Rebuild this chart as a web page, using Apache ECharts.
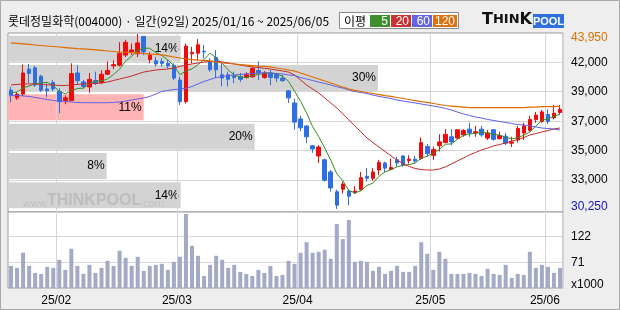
<!DOCTYPE html>
<html><head><meta charset="utf-8">
<script src="https://cdn.jsdelivr.net/npm/echarts@6/dist/echarts.min.js"></script>
<style>html,body{margin:0;padding:0;background:#eeeeee}#c{width:620px;height:310px}</style>
</head><body><div id="c"></div>
<script>
const stockName = '롯데정밀화학(004000)';
const dates = [
 '2025/01/16','2025/01/17','2025/01/20','2025/01/21','2025/01/22','2025/01/23','2025/01/24','2025/01/31',
 '2025/02/03','2025/02/04','2025/02/05','2025/02/06','2025/02/07','2025/02/10','2025/02/11','2025/02/12','2025/02/13','2025/02/14',
 '2025/02/17','2025/02/18','2025/02/19','2025/02/20','2025/02/21','2025/02/24','2025/02/25','2025/02/26','2025/02/27','2025/02/28',
 '2025/03/04','2025/03/05','2025/03/06','2025/03/07','2025/03/10','2025/03/11','2025/03/12','2025/03/13','2025/03/14',
 '2025/03/17','2025/03/18','2025/03/19','2025/03/20','2025/03/21','2025/03/24','2025/03/25','2025/03/26','2025/03/27','2025/03/28','2025/03/31',
 '2025/04/01','2025/04/02','2025/04/03','2025/04/04','2025/04/07','2025/04/08','2025/04/09','2025/04/10','2025/04/11',
 '2025/04/14','2025/04/15','2025/04/16','2025/04/17','2025/04/18','2025/04/21','2025/04/22','2025/04/23','2025/04/24','2025/04/25',
 '2025/04/28','2025/04/29','2025/04/30',
 '2025/05/02','2025/05/07','2025/05/08','2025/05/09','2025/05/12','2025/05/13','2025/05/14','2025/05/15','2025/05/16',
 '2025/05/19','2025/05/20','2025/05/21','2025/05/22','2025/05/23','2025/05/26','2025/05/27','2025/05/28','2025/05/29','2025/05/30',
 '2025/06/02','2025/06/04','2025/06/05'
];
const opens = [
 39550,38950,39250,41200,41300,40650,39650,40150,39450,38750,
 38750,40900,40200,39800,40300,40150,40800,41450,41500,42300,
 42550,42400,43750,41950,41850,41800,41650,41500,40350,38650,
 42400,42450,42600,41800,42100,40750,40750,40650,40600,40550,
 40600,41100,40550,40900,40800,40500,39500,38550,37300,36750,
 35200,34400,34100,33150,31600,31800,31650,31500,31750,32800,
 32650,33300,33850,33350,34100,34400,34050,34150,34200,35150,
 34450,35200,35450,35900,35800,36050,36500,36200,36500,35800,
 36450,35750,35950,35400,35650,36200,36400,37250,37100,37650,
 37400,37800
];
const closes = [
 39150,39250,40900,40850,39950,39550,39500,39650,38650,38950,
 40850,40300,39850,40400,40100,40800,41100,41550,42450,43300,
 42700,43250,42550,42300,41600,41650,41450,40500,38650,43000,
 42500,43100,42550,41150,41150,40500,40400,40550,40400,40800,
 41250,40900,40900,40550,40500,40300,38950,37050,36600,35900,
 34950,35100,32500,31900,30550,32200,31250,31650,32700,32650,
 33150,33900,33450,33500,33850,33700,34150,34000,35450,34600,
 34900,35500,36100,35500,36450,36400,36200,36300,36050,36200,
 35700,36000,35400,35500,36550,36750,37250,37600,37850,37100,
 37750,38050
];
const lows = [
 38600,38800,39100,40100,39800,39400,39000,39450,37750,38450,
 38700,39950,39700,39350,39950,40050,40750,41200,41400,42150,
 42300,42150,42300,41650,41400,41400,41250,40350,38400,38500,
 41650,41900,42050,41000,40500,39850,39850,40100,40200,40450,
 40500,40350,40450,39950,40200,40200,38550,36450,36350,35400,
 34650,33850,32400,31600,30250,31450,30550,31450,31700,32400,
 32450,32900,33150,33300,33550,33550,33800,33850,34100,34350,
 34100,34750,35400,35250,35700,35900,35900,35900,35900,35650,
 35600,35700,35250,35100,35450,35650,36300,37000,37000,36900,
 37250,37600
];
const highs = [
 39800,39400,41550,41600,41450,40750,40100,40350,39700,39150,
 41650,41500,40350,40900,41000,41100,41800,41900,43300,43500,
 43200,43950,43800,42550,42150,42050,41900,41650,40600,43200,
 42950,43550,43100,42050,42700,41650,41000,41000,40900,40950,
 41350,41800,41050,41150,40900,40750,39550,38900,37550,36800,
 35250,35250,34200,33300,31750,32400,31800,32050,33150,33450,
 33450,34100,33950,34200,34350,34450,34450,34400,35850,35350,
 35150,36100,36500,36500,36500,36500,37000,36750,36750,36450,
 36500,36300,36200,35900,36750,37000,37550,37850,38000,38050,
 38400,38400
];
// volume, thousand shares
const volumes = [
 64,60,90,64,50,48,62,60,76,56,
 98,64,48,66,50,60,74,64,94,80,
 64,82,54,64,66,68,56,72,82,167,
 104,84,44,66,84,76,60,66,52,48,
 44,56,50,64,44,46,74,68,90,111,
 90,92,96,78,147,117,155,72,74,72,
 54,62,48,54,64,52,52,64,111,88,
 56,92,78,48,48,48,50,48,44,58,
 48,46,66,40,48,46,92,60,66,62,
 50,60
];
const ma5 = [
 39330,39410,39720,39880,40040,40110,40170,39910,39460,39260,
 39530,39680,39710,40070,40290,40280,40430,40780,41190,41830,
 42210,42650,42850,42830,42490,42270,41910,41490,40760,41050,
 41220,41550,41950,42450,42080,41670,41140,40740,40600,40540,
 40690,40790,40870,40900,40830,40640,40250,39470,38680,37760,
 36690,35920,35020,34080,33010,32460,31690,31520,31670,32090,
 32280,32810,33160,33320,33560,33670,33720,33840,34230,34380,
 34620,34900,35320,35340,35710,36000,36130,36160,36270,36210,
 36080,36040,35860,35750,35830,36030,36280,36730,37200,37300,
 37510,37670
];
const ma20 = [
 39960,40000,40040,40040,40040,40000,39960,39960,39920,39920,
 39960,40000,40040,40070,40070,40110,40190,40310,40430,40540,
 40660,40820,40970,41050,41130,41170,41210,41290,41410,41520,
 41600,41680,41760,41800,41800,41760,41680,41600,41520,41440,
 41370,41330,41260,41210,41130,41050,40970,40740,40350,39960,
 39640,39330,38940,38550,38160,37690,37220,36750,36280,35810,
 35450,35100,34750,34400,34080,33810,33580,33420,33340,33300,
 33300,33380,33540,33770,34010,34240,34480,34670,34870,35020,
 35180,35300,35420,35570,35690,35850,36040,36160,36280,36390,
 36510,36590
];
const ma60 = [
 39170,39140,39100,39060,38980,38900,38820,38740,38700,38670,
 38630,38590,38570,38570,38570,38570,38570,38590,38630,38700,
 38780,38860,38940,39060,39250,39450,39530,39600,39640,39700,
 39840,40040,40230,40390,40540,40620,40700,40740,40780,40820,
 40860,40900,40900,40900,40860,40820,40740,40700,40540,40430,
 40310,40190,40070,39960,39820,39720,39570,39450,39370,39290,
 39170,39060,38980,38900,38780,38700,38630,38550,38470,38390,
 38310,38230,38120,38000,37840,37690,37570,37450,37370,37260,
 37180,37100,37020,36940,36860,36830,36750,36670,36590,36550,
 36510,36430
];
const ma120 = [
 43250,43210,43170,43130,43090,43050,43010,42970,42930,42890,
 42850,42810,42780,42740,42700,42660,42620,42580,42540,42520,
 42490,42460,42420,42380,42350,42310,42230,42150,42070,41990,
 41950,41910,41880,41840,41760,41680,41640,41600,41560,41520,
 41480,41440,41420,41370,41290,41210,41130,41050,40900,40740,
 40580,40430,40270,40110,39960,39800,39640,39530,39450,39370,
 39290,39210,39130,39060,38980,38900,38820,38740,38660,38590,
 38510,38430,38350,38310,38270,38230,38190,38190,38190,38190,
 38190,38190,38190,38190,38190,38190,38230,38230,38270,38270,
 38270,38310
];
// price-volume profile bands (top to bottom), percent of volume
const bandNames = ['band1','band2','band3','band4','band5','band6'];
const bandPct = [14, 30, 11, 20, 8, 14];
const currentBand = 2;
// right axis tick values and the labels printed at them
const priceTickValues = [41700, 39430, 37080, 34810, 32520];
const priceTickLabels = ['42,000', '39,000', '37,000', '35,000', '33,000'];
const priceMax = 43950, priceMin = 30250;
const volTickValues = [71, 122];
const volUnit = 'x1000';
const maNames = ['5', '20', '60', '120'];

// ---------- styles ----------
const C_UP = '#ec0c0c', C_DOWN = '#2f6fe2';
const C_MA = ['#3a8c22', '#c42a2a', '#5f5fe6', '#e06c00'];
const C_LEG = ['#3f8f2f', '#c83232', '#6464e4', '#e07010'];
const NUM_FONT = 'Liberation Sans, Arial, sans-serif';
const KR_FONT = '"Noto Sans CJK KR", sans-serif';

const isMonthStart = (i) => i > 0 && dates[i].slice(0, 7) !== dates[i - 1].slice(0, 7);
const fmt = (v) => v.toLocaleString('en-US');

const chart = echarts.init(document.getElementById('c'), null, {renderer: 'canvas'});

const ohlc = dates.map((d, i) => [opens[i], closes[i], lows[i], highs[i]]);
const bandData = bandPct.map((v, i) => ({
  value: v,
  itemStyle: {color: i === currentBand ? '#ffb3b3' : '#d3d3d3'}
}));

const PLOT_L = 8, PLOT_W = 555;
const pMin = 30013, pMax = 44028;

const legendEls = [];
legendEls.push({type: 'rect', shape: {x: 339.5, y: 12.5, width: 119, height: 16}, style: {fill: '#fff', stroke: '#8a8a8a', lineWidth: 1}, z: 50});
legendEls.push({type: 'text', x: 344, y: 21, style: {text: '이평', font: '12px ' + KR_FONT, fill: '#000', textVerticalAlign: 'middle'}, z: 51});
const legX = [370, 391, 412, 433], legW = [20, 20, 20, 24];
maNames.forEach((n, i) => {
  legendEls.push({type: 'rect', shape: {x: legX[i], y: 15, width: legW[i], height: 12}, style: {fill: C_LEG[i]}, z: 51});
  legendEls.push({type: 'text', x: legX[i] + legW[i] - 2, y: 21.5, style: {text: n, font: '12px ' + NUM_FONT, fill: '#fff', textAlign: 'right', textVerticalAlign: 'middle'}, z: 52});
});

const option = {
  animation: false,
  backgroundColor: '#eeeeee',
  grid: [
    {left: PLOT_L, top: 33, width: PLOT_W, height: 179, show: true, backgroundColor: '#fff', borderColor: '#9a9a9a', borderWidth: 1, containLabel: false},
    {left: PLOT_L, top: 212, width: PLOT_W, height: 76, show: true, backgroundColor: '#fff', borderColor: '#9a9a9a', borderWidth: 1, containLabel: false},
    {left: PLOT_L, top: 34, width: PLOT_W, height: 176, show: false, containLabel: false}
  ],
  xAxis: [
    {gridIndex: 0, type: 'category', data: dates, boundaryGap: true, z: 2,
     axisLine: {show: false}, axisTick: {show: false}, axisLabel: {show: false},
     splitLine: {show: true, interval: (i) => isMonthStart(i), lineStyle: {color: '#d6d6d6', width: 1}}},
    {gridIndex: 1, type: 'category', data: dates, boundaryGap: true,
     axisLine: {show: false}, axisTick: {show: false},
     axisLabel: {show: true, interval: (i) => isMonthStart(i), margin: 7,
       formatter: (v) => '{m|' + v.slice(2, 7) + '}',
       rich: {m: {fontFamily: NUM_FONT, fontSize: 12, color: '#000', padding: [0, 6, 0, 0]}}},
     splitLine: {show: true, interval: (i) => isMonthStart(i), lineStyle: {color: '#d6d6d6', width: 1}}},
    {gridIndex: 2, type: 'value', min: 0, max: 45, show: false}
  ],
  yAxis: [
    {gridIndex: 0, type: 'value', position: 'right', min: pMin, max: pMax, scale: true,
     axisLine: {show: false},
     axisTick: {show: false, customValues: priceTickValues},
     axisLabel: {show: true, customValues: priceTickValues, margin: 8, fontFamily: NUM_FONT, fontSize: 12, color: '#000',
       formatter: (v) => { const k = priceTickValues.indexOf(v); return k >= 0 ? priceTickLabels[k] : ''; }},
     splitLine: {show: true, lineStyle: {color: '#d6d6d6', width: 1}}},
    {gridIndex: 0, type: 'value', position: 'right', min: pMin, max: pMax, scale: true,
     axisLine: {show: false}, axisTick: {show: false, customValues: [priceMax, priceMin]},
     splitLine: {show: false},
     axisLabel: {show: true, customValues: [priceMax, priceMin], margin: 8,
       formatter: (v) => v === priceMax ? '{hi|' + fmt(v) + '}' : '{lo|' + fmt(v) + '}',
       rich: {hi: {fontFamily: NUM_FONT, fontSize: 12, color: '#e07000', padding: [8, 0, 0, 0]},
              lo: {fontFamily: NUM_FONT, fontSize: 12, color: '#1414c8', padding: [0, 0, 5, 0]}}}},
    {gridIndex: 1, type: 'value', position: 'right', min: 20, max: 171,
     axisLine: {show: false},
     axisTick: {show: false, customValues: volTickValues},
     axisLabel: {show: true, customValues: volTickValues, margin: 8, fontFamily: NUM_FONT, fontSize: 12, color: '#000'},
     splitLine: {show: true, lineStyle: {color: '#d6d6d6', width: 1}}},
    {gridIndex: 2, type: 'category', data: bandNames, inverse: true, show: false}
  ],
  series: [
    {name: 'profile', type: 'bar', xAxisIndex: 2, yAxisIndex: 3, data: bandData, barWidth: 26, z: 1, silent: true,
     label: {show: true, position: 'insideRight', distance: 2, formatter: '{c}%', fontFamily: NUM_FONT, fontSize: 12, color: '#000'}},
    {name: 'price', type: 'candlestick', xAxisIndex: 0, yAxisIndex: 0, data: ohlc, barWidth: 4, z: 3, silent: true,
     itemStyle: {color: C_UP, color0: C_DOWN, borderColor: C_UP, borderColor0: C_DOWN, borderWidth: 1}},
    {name: 'MA5', type: 'line', xAxisIndex: 0, yAxisIndex: 0, data: ma5, symbol: 'none', z: 4, silent: true, lineStyle: {color: C_MA[0], width: 1}},
    {name: 'MA20', type: 'line', xAxisIndex: 0, yAxisIndex: 0, data: ma20, symbol: 'none', z: 4, silent: true, lineStyle: {color: C_MA[1], width: 1}},
    {name: 'MA60', type: 'line', xAxisIndex: 0, yAxisIndex: 0, data: ma60, symbol: 'none', z: 4, silent: true, lineStyle: {color: C_MA[2], width: 1}},
    {name: 'MA120', type: 'line', xAxisIndex: 0, yAxisIndex: 0, data: ma120, symbol: 'none', z: 4, silent: true, lineStyle: {color: C_MA[3], width: 1.2}},
    {name: 'volume', type: 'bar', xAxisIndex: 1, yAxisIndex: 2, data: volumes, barWidth: 4, z: 2, silent: true,
     itemStyle: {color: '#a2aac6'}}
  ],
  graphic: [
    {type: 'text', x: 8, y: 21, style: {text: stockName + ' · 일간(' + dates.length + '일) ' + dates[0] + ' ~ ' + dates[dates.length - 1],
      font: '12px ' + KR_FONT, fill: '#000', textVerticalAlign: 'middle'}, z: 50},
    ...legendEls,
    {type: 'text', x: 482, y: 28, style: {text: '{b|T}{s|HIN}{b|K}', textVerticalAlign: 'bottom',
      rich: {b: {fontFamily: 'DejaVu Sans', fontWeight: 'bold', fontSize: 16, fill: '#111'},
             s: {fontFamily: 'DejaVu Sans', fontWeight: 'bold', fontSize: 13, fill: '#111'}}}, z: 50},
    {type: 'rect', shape: {x: 533, y: 14, width: 31, height: 14}, style: {fill: '#2f6fe0'}, z: 50},
    {type: 'text', x: 548.5, y: 21.5, style: {text: 'POOL', font: 'bold 11px ' + NUM_FONT, fill: '#fff', textAlign: 'center', textVerticalAlign: 'middle'}, z: 51},
    {type: 'text', x: 23, y: 209, style: {text: 'www.', font: '11px ' + NUM_FONT, fill: '#c2c2c2', textVerticalAlign: 'bottom'}, z: 10},
    {type: 'text', x: 47, y: 209, style: {text: 'THINKPOOL', font: 'bold 16px ' + NUM_FONT, fill: '#bdbdbd', textVerticalAlign: 'bottom'}, z: 10},
    {type: 'text', x: 140, y: 209, style: {text: '.com', font: '11px ' + NUM_FONT, fill: '#c2c2c2', textVerticalAlign: 'bottom'}, z: 10},
    {type: 'text', x: 571, y: 285, style: {text: volUnit, font: '12px ' + NUM_FONT, fill: '#000', textVerticalAlign: 'middle'}, z: 50},
    {type: 'rect', shape: {x: 0.5, y: 0.5, width: 619, height: 309}, style: {fill: 'none', stroke: '#a8a8a8', lineWidth: 1}, z: 100}
  ]
};
chart.setOption(option);
</script></body></html>
